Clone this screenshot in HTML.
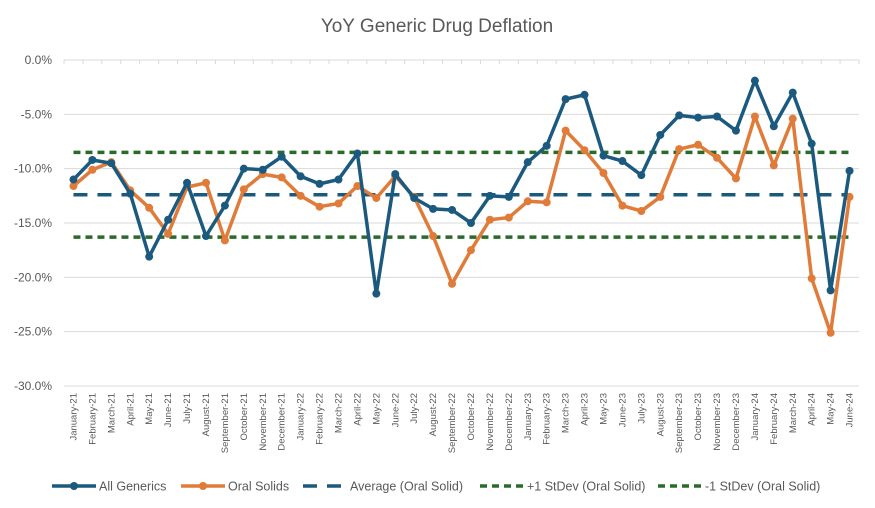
<!DOCTYPE html>
<html><head><meta charset="utf-8"><title>YoY Generic Drug Deflation</title>
<style>
html,body{margin:0;padding:0;background:#fff;}
svg{display:block;font-family:"Liberation Sans",sans-serif;}
</style></head>
<body>
<svg id="chart" width="875" height="508" viewBox="0 0 875 508">
<text x="437" y="32" text-anchor="middle" font-size="19" fill="#595959">YoY Generic Drug Deflation</text>
<g id="grid"></g>
<g id="yaxis"></g>
<g id="xaxis"></g>
<g id="reflines"></g>
<g id="series"></g>
<g id="legend"></g>
</svg>
<script>
const categories = ["January-21","February-21","March-21","April-21","May-21","June-21","July-21","August-21","September-21","October-21","November-21","December-21","January-22","February-22","March-22","April-22","May-22","June-22","July-22","August-22","September-22","October-22","November-22","December-22","January-23","February-23","March-23","April-23","May-23","June-23","July-23","August-23","September-23","October-23","November-23","December-23","January-24","February-24","March-24","April-24","May-24","June-24"];
const allGenerics = [-11.0,-9.2,-9.5,-12.3,-18.1,-14.7,-11.3,-16.2,-13.4,-10.0,-10.1,-8.9,-10.7,-11.4,-11.0,-8.6,-21.5,-10.5,-12.7,-13.7,-13.8,-15.0,-12.5,-12.6,-9.4,-7.9,-3.6,-3.2,-8.8,-9.3,-10.6,-6.9,-5.1,-5.3,-5.2,-6.5,-1.9,-6.1,-3.0,-7.7,-21.2,-10.2];
const oralSolids = [-11.6,-10.1,-9.4,-12.0,-13.6,-16.0,-11.7,-11.3,-16.6,-11.9,-10.5,-10.8,-12.5,-13.5,-13.2,-11.6,-12.7,-10.7,-12.6,-16.2,-20.6,-17.5,-14.7,-14.5,-13.0,-13.1,-6.5,-8.3,-10.4,-13.4,-13.9,-12.6,-8.2,-7.8,-9.0,-10.9,-5.2,-9.7,-5.4,-20.1,-25.1,-12.6];
const averageOral = -12.4;
const plusStd = -8.5;
const minusStd = -16.3;
const yTicks = [0,-5,-10,-15,-20,-25,-30];
const yTickLabels = ["0.0%","-5.0%","-10.0%","-15.0%","-20.0%","-25.0%","-30.0%"];

const NS="http://www.w3.org/2000/svg";
const L=64,R=859,T=60,B=386;
const step=(R-L)/categories.length;
function xs(i){return L+step*(i+0.5);}
function ys(v){return T+(0-v)/30*(B-T);}
function mk(tag,attrs,parent){const e=document.createElementNS(NS,tag);for(const k in attrs)e.setAttribute(k,attrs[k]);parent.appendChild(e);return e;}

const grid=document.getElementById('grid'),yaxis=document.getElementById('yaxis');
yTicks.forEach((t,i)=>{
  const g=mk('line',{x1:L,x2:R,y1:ys(t),y2:ys(t),stroke:'#d9d9d9','stroke-width':1},grid);
  
  
  const tx=mk('text',{x:52,y:ys(t)+4,'text-anchor':'end','font-size':12,fill:'#595959'},yaxis);
  tx.textContent=yTickLabels[i];
  
  
});
const xaxis=document.getElementById('xaxis');
for(let i=0;i<=categories.length;i++){
  const tk=mk('line',{x1:L+step*i,x2:L+step*i,y1:T,y2:T+4,stroke:'#d9d9d9'},xaxis);
  
  
}
categories.forEach((c,i)=>{
  const x=xs(i)+3;
  const t=mk('text',{x:x,y:393,'text-anchor':'end','font-size':9.5,fill:'#595959',transform:`rotate(-90 ${x} 393)`},xaxis);
  t.textContent=c;
  
  
});

const ref=document.getElementById('reflines');
const x0=xs(0),x1=xs(categories.length-1);
const a=mk('line',{x1:x0,x2:x1,y1:ys(averageOral),y2:ys(averageOral),stroke:'#1b5a7e','stroke-width':3.5,'stroke-dasharray':'14 10'},ref);


const p=mk('line',{x1:x0,x2:x1,y1:ys(plusStd),y2:ys(plusStd),stroke:'#2a6b2a','stroke-width':3.5,'stroke-dasharray':'7 5'},ref);


const m=mk('line',{x1:x0,x2:x1,y1:ys(minusStd),y2:ys(minusStd),stroke:'#2a6b2a','stroke-width':3.5,'stroke-dasharray':'7 5'},ref);



const ser=document.getElementById('series');
function drawSeries(vals,color,name){
  const pl=mk('polyline',{points:vals.map((v,i)=>xs(i)+','+ys(v)).join(' '),fill:'none',stroke:color,'stroke-width':3.5,'stroke-linejoin':'round'},ser);
  
  
  vals.forEach((v,i)=>{
    const c=mk('circle',{cx:xs(i),cy:ys(v),r:4,fill:color},ser);
    
    
  });
}
drawSeries(oralSolids,'#e07b39','oral-solids');
drawSeries(allGenerics,'#1b5a7e','all-generics');

const lg=document.getElementById('legend');
const ly=486;
function legendItem(x,label,kind,color,w){
  const g=mk('g',{},lg);
  
  
  if(kind==='marker'){mk('line',{x1:x,x2:x+44,y1:ly,y2:ly,stroke:color,'stroke-width':3.5},g);mk('circle',{cx:x+22,cy:ly,r:4,fill:color},g);}
  else if(kind==='dash'){mk('line',{x1:x,x2:x+44,y1:ly,y2:ly,stroke:color,'stroke-width':3.5,'stroke-dasharray':'14 10'},g);}
  else {mk('line',{x1:x,x2:x+44,y1:ly,y2:ly,stroke:color,'stroke-width':3.5,'stroke-dasharray':'7 5'},g);}
  const t=mk('text',{x:x+47,y:ly+4.5,'font-size':12.5,fill:'#595959'},g);
  t.textContent=label;
}
legendItem(52,'All Generics','marker','#1b5a7e');
legendItem(181,'Oral Solids','marker','#e07b39');
legendItem(303,'Average (Oral Solid)','dash','#1b5a7e');
legendItem(480,'+1 StDev (Oral Solid)','dot','#2a6b2a');
legendItem(658,'-1 StDev (Oral Solid)','dot','#2a6b2a');
</script>
</body></html>
